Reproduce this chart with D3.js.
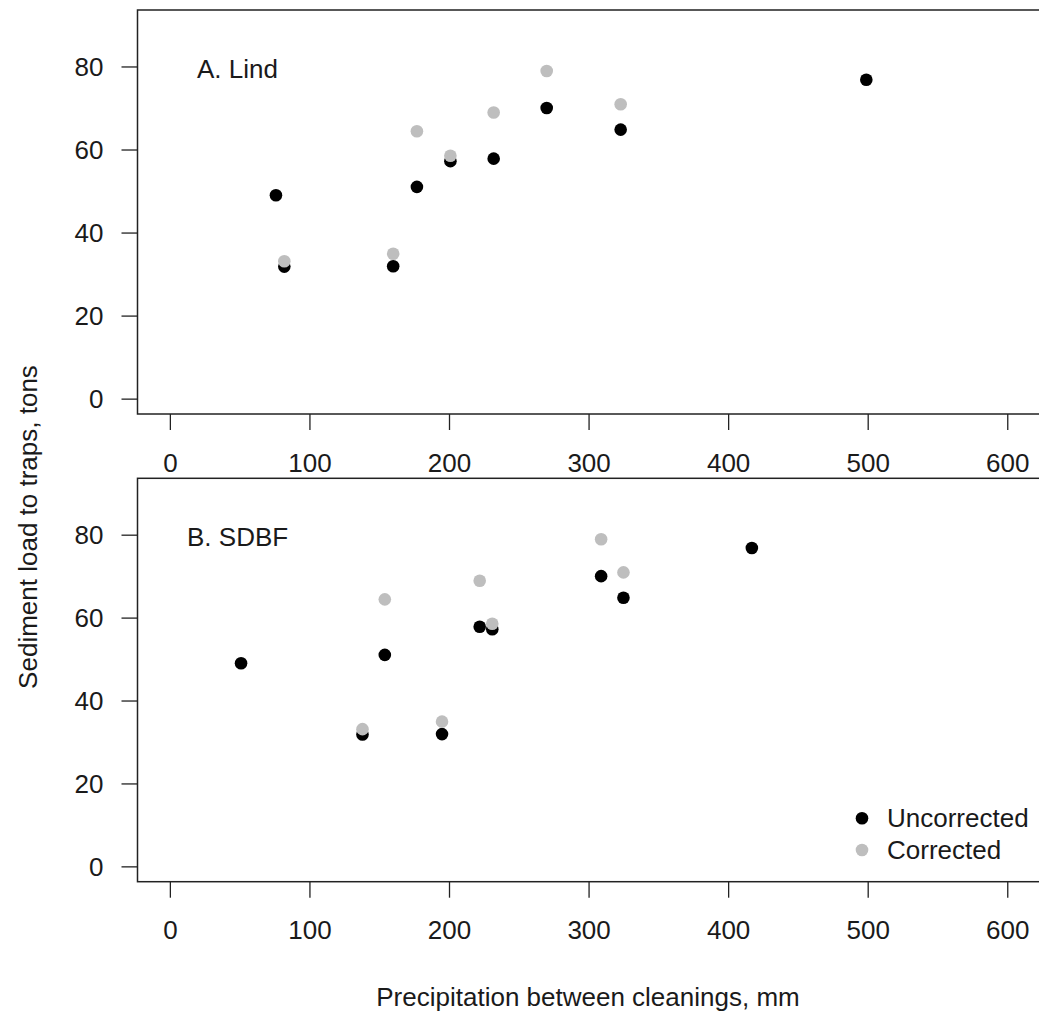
<!DOCTYPE html>
<html>
<head>
<meta charset="utf-8">
<script src="https://cdn.jsdelivr.net/npm/d3@7"></script>
<style>
  html, body { margin: 0; padding: 0; background: #fff; }
  svg { display: block; }
  text { font-family: Arial, "Liberation Sans", sans-serif; fill: #1a1a1a; }
</style>
</head>
<body>
<svg id="chart" width="1039" height="1013"></svg>
<script>
// Precipitation between trap cleanings (mm) at each site
const lindPrecip = [76, 82, 160, 177, 201, 232, 270, 323, 499];
const sdbfPrecip = [51, 138, 195, 154, 231, 222, 309, 325, 417];
// Sediment load to traps (tons), same cleanings for both sites
const loadUncorrected = [49, 31.8, 31.9, 51, 57.2, 57.8, 70, 64.8, 76.8];
const loadCorrected = [null, 33.1, 34.9, 64.4, 58.5, 68.9, 78.9, 70.9, null];

const xTicks = [0, 100, 200, 300, 400, 500, 600];
const yTicks = [0, 20, 40, 60, 80];
const seriesNames = ["Uncorrected", "Corrected"];
const seriesColors = ["#000000", "#bebebe"];

const panels = [
  { label: "A. Lind", precip: lindPrecip, top: 10, bottom: 414, labelX: 197 },
  { label: "B. SDBF", precip: sdbfPrecip, top: 478.3, bottom: 881.7, labelX: 187 }
];

const svg = d3.select("#chart");
const left = 137.5, right = 1045.5;
const x = d3.scaleLinear().domain([-23.2, 627.4]).range([left, right]);
const fontSize = 26;
const tickLen = 16;
const r = 6.3;

panels.forEach((p, pi) => {
  const y = d3.scaleLinear().domain([-3.7, 93.6]).range([p.bottom, p.top]);
  const g = svg.append("g");

  // frame
  g.append("rect")
    .attr("x", left).attr("y", p.top)
    .attr("width", right - left).attr("height", p.bottom - p.top)
    .attr("fill", "none").attr("stroke", "#222").attr("stroke-width", 1.5);

  // x axis ticks and labels
  const xAxis = d3.axisBottom(x).tickValues(xTicks).tickSize(tickLen).tickPadding(0).tickFormat(d3.format("d"));
  const gx = g.append("g").attr("transform", `translate(0,${p.bottom})`).call(xAxis);
  gx.select(".domain").remove();
  gx.selectAll(".tick line").attr("stroke", "#222").attr("stroke-width", 1.3);
  gx.selectAll(".tick text")
    .attr("y", 48.7).attr("dy", "0.35em")
    .style("font-size", fontSize + "px").style("font-family", "Arial, 'Liberation Sans', sans-serif")
    .attr("fill", "#1a1a1a");

  // y axis ticks and labels
  const yAxis = d3.axisLeft(y).tickValues(yTicks).tickSize(tickLen).tickPadding(0).tickFormat(d3.format("d"));
  const gy = g.append("g").attr("transform", `translate(${left},0)`).call(yAxis);
  gy.select(".domain").remove();
  gy.selectAll(".tick line").attr("stroke", "#222").attr("stroke-width", 1.3);
  gy.selectAll(".tick text")
    .attr("x", -34).attr("dy", "0.35em")
    .style("font-size", fontSize + "px").style("font-family", "Arial, 'Liberation Sans', sans-serif")
    .attr("fill", "#1a1a1a");

  // panel label
  g.append("text")
    .attr("x", p.labelX).attr("y", p.top + 59).attr("dy", "0.35em")
    .style("font-size", fontSize + "px")
    .text(p.label);

  // points: uncorrected first, corrected drawn over it
  const uncorr = p.precip.map((v, i) => ({ x: v, y: loadUncorrected[i] }));
  const corr = p.precip.map((v, i) => ({ x: v, y: loadCorrected[i] })).filter(d => d.y != null);

  g.append("g").selectAll("circle").data(uncorr).join("circle")
    .attr("cx", d => x(d.x)).attr("cy", d => y(d.y)).attr("r", r)
    .attr("fill", seriesColors[0]);
  g.append("g").selectAll("circle").data(corr).join("circle")
    .attr("cx", d => x(d.x)).attr("cy", d => y(d.y)).attr("r", r)
    .attr("fill", seriesColors[1]);

  // legend in lower panel
  if (pi === 1) {
    const lg = g.append("g");
    seriesNames.forEach((name, i) => {
      const ly = 818.3 + i * 31.7;
      lg.append("circle").attr("cx", 862).attr("cy", ly).attr("r", r).attr("fill", seriesColors[i]);
      lg.append("text").attr("x", 887).attr("y", ly).attr("dy", "0.35em")
        .style("font-size", fontSize + "px").text(name);
    });
  }
});

// axis titles
svg.append("text")
  .attr("x", 588).attr("y", 997).attr("dy", "0.35em")
  .attr("text-anchor", "middle")
  .style("font-size", fontSize + "px")
  .text("Precipitation between cleanings, mm");

svg.append("text")
  .attr("transform", "translate(28,527) rotate(-90)")
  .attr("dy", "0.35em")
  .attr("text-anchor", "middle")
  .style("font-size", fontSize + "px")
  .text("Sediment load to traps, tons");
</script>
</body>
</html>
